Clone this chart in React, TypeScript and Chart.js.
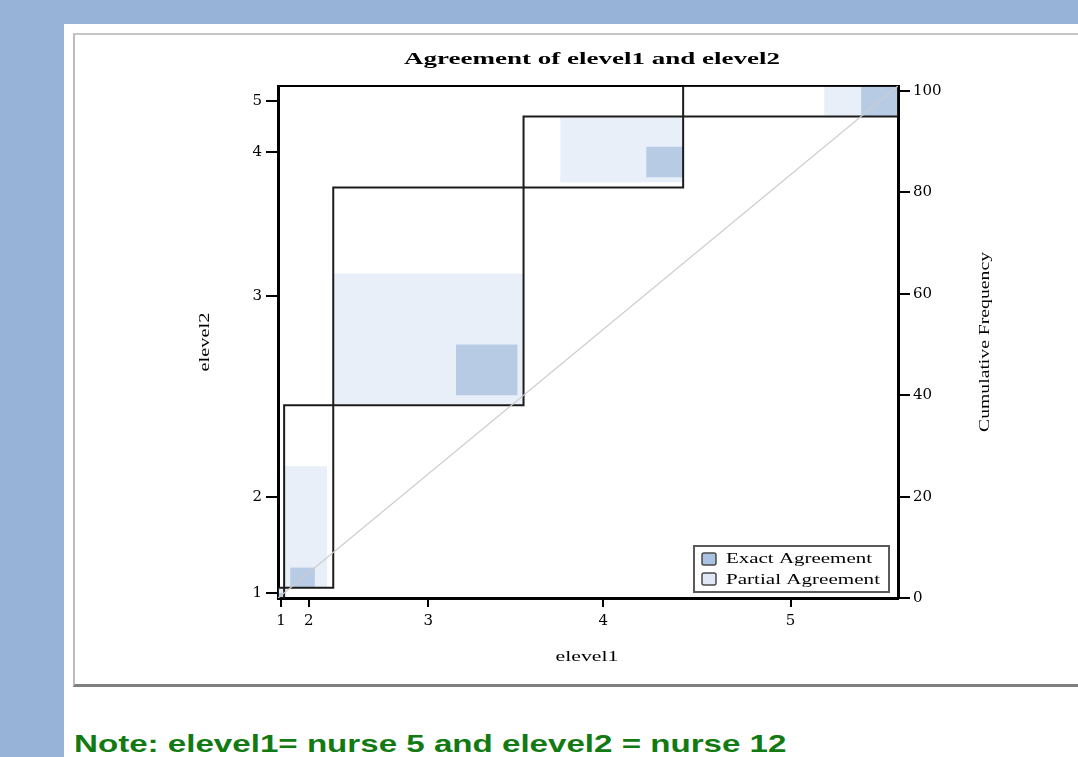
import React, { useEffect, useRef } from 'react';
import { Chart, registerables } from 'chart.js';

Chart.register(...registerables);

// Categories of elevel1 (x) and elevel2 (y)
const CATEGORIES = ['1', '2', '3', '4', '5'];
// Cross-tab counts: each array = elevel1 fixed, counts for elevel2 = 1..5
const E1_IS_1 = [1, 0, 0, 0, 0];
const E1_IS_2 = [1, 4, 2, 1, 0];
const E1_IS_3 = [0, 20, 10, 1, 0];
const E1_IS_4 = [0, 6, 14, 6, 0];
const E1_IS_5 = [0, 6, 17, 6, 6];
const FREQ_TICKS = [0, 20, 40, 60, 80, 100];
const LEGEND_LABELS = ['Exact Agreement', 'Partial Agreement'];

const TABLE = [E1_IS_1, E1_IS_2, E1_IS_3, E1_IS_4, E1_IS_5];
const K = CATEGORIES.length;
const sum = (a: number[]) => a.reduce((s, v) => s + v, 0);
const ROW_TOT = TABLE.map((r) => sum(r));
const COL_TOT = CATEGORIES.map((_, j) => sum(TABLE.map((r) => r[j])));
const N = sum(ROW_TOT);
const cum = (arr: number[]) => arr.reduce((acc: number[], v) => { acc.push(acc[acc.length - 1] + v); return acc; }, [0]);
const XC = cum(ROW_TOT);
const YC = cum(COL_TOT);
const X_MIDS = CATEGORIES.map((_, k) => (XC[k] + XC[k + 1]) / 2);
const Y_MIDS = CATEGORIES.map((_, k) => (YC[k] + YC[k + 1]) / 2);
const sumRange = (arr: number[], a: number, b: number) => {
  let s = 0;
  for (let i = Math.max(0, a); i < Math.min(arr.length, b); i++) s += arr[i];
  return s;
};
const rowOf = (k: number) => TABLE[k];
const colOf = (k: number) => TABLE.map((r) => r[k]);

const PARTIAL_RECTS = CATEGORIES.map((_, k) => {
  const row = rowOf(k), col = colOf(k);
  const x0 = XC[k] + sumRange(row, 0, k - 1);
  const y0 = YC[k] + sumRange(col, 0, k - 1);
  return { x0, x1: x0 + sumRange(row, k - 1, k + 2), y0, y1: y0 + sumRange(col, k - 1, k + 2) };
});
const EXACT_RECTS = CATEGORIES.map((_, k) => {
  const row = rowOf(k), col = colOf(k);
  const x0 = XC[k] + sumRange(row, 0, k);
  const y0 = YC[k] + sumRange(col, 0, k);
  return { x0, x1: x0 + TABLE[k][k], y0, y1: y0 + TABLE[k][k] };
});

const LIGHT = '#e8eff8';
const DARK = '#b7cbe5';

function stretchText(ctx: CanvasRenderingContext2D, text: string, x: number, y: number, font: string,
  target: number, angle = 0, align: CanvasTextAlign = 'center', baseline: CanvasTextBaseline = 'middle') {
  ctx.save();
  ctx.font = font;
  const w = ctx.measureText(text).width;
  ctx.translate(x, y);
  ctx.rotate(angle);
  ctx.scale(target / w, 1);
  ctx.textAlign = align;
  ctx.textBaseline = baseline;
  ctx.fillStyle = '#000';
  ctx.fillText(text, 0, 0);
  ctx.restore();
}

const shadePlugin = {
  id: 'shade',
  beforeDatasetsDraw(chart: any) {
    const { ctx } = chart;
    const xs = chart.scales.x, ys = chart.scales.y;
    const fill = (r: any, c: string) => {
      const a = xs.getPixelForValue(r.x0), b = xs.getPixelForValue(r.x1);
      const t = ys.getPixelForValue(r.y1), u = ys.getPixelForValue(r.y0);
      ctx.fillStyle = c;
      ctx.fillRect(a, t, b - a, u - t);
    };
    ctx.save();
    PARTIAL_RECTS.forEach((r) => fill(r, LIGHT));
    EXACT_RECTS.forEach((r) => fill(r, DARK));
    ctx.restore();
  },
};

const textPlugin = {
  id: 'texts',
  afterDraw(chart: any) {
    const { ctx, chartArea: ca } = chart;
    const cx = (ca.left + ca.right) / 2;
    const cy = (ca.top + ca.bottom) / 2;
    const serif = '"Liberation Serif", "Times New Roman", serif';
    stretchText(ctx, 'Agreement of elevel1 and elevel2', cx + 4, ca.top - 26, `bold 17px ${serif}`, 376);
    stretchText(ctx, 'elevel1', cx - 1, ca.bottom + 59, `15px ${serif}`, 63);
    stretchText(ctx, 'elevel2', ca.left - 73, cy, `15px ${serif}`, 59, -Math.PI / 2);
    stretchText(ctx, 'Cumulative Frequency', ca.right + 87, cy, `15px ${serif}`, 180, -Math.PI / 2);

    // legend
    const bw = 195, bh = 46;
    const bx = ca.right - 9 - bw, by = ca.bottom - 6 - bh;
    ctx.save();
    ctx.fillStyle = '#fff';
    ctx.fillRect(bx, by, bw, bh);
    ctx.strokeStyle = '#5a5a5a';
    ctx.lineWidth = 2;
    ctx.strokeRect(bx, by, bw, bh);
    const sw = [{ c: '#a9c2e2', y: by + 7 }, { c: '#dfe8f4', y: by + 27 }];
    sw.forEach((s) => {
      ctx.beginPath();
      (ctx as any).roundRect(bx + 8, s.y, 14, 12, 2);
      ctx.fillStyle = s.c;
      ctx.fill();
      ctx.strokeStyle = '#4a4a4a';
      ctx.lineWidth = 1.5;
      ctx.stroke();
    });
    ctx.restore();
    stretchText(ctx, LEGEND_LABELS[0], bx + 32, by + 17, `15px ${serif}`, 146, 0, 'left', 'alphabetic');
    stretchText(ctx, LEGEND_LABELS[1], bx + 32, by + 38, `15px ${serif}`, 154, 0, 'left', 'alphabetic');
  },
};

export default function App() {
  const ref = useRef<HTMLCanvasElement | null>(null);
  useEffect(() => {
    if (!ref.current) return;
    const tickFont = { family: '"DejaVu Serif", serif', size: 15 };
    const datasets: any[] = [
      {
        data: [{ x: 0, y: 0 }, { x: N, y: N }],
        borderColor: '#cdcdcd', borderWidth: 1.3, showLine: true, pointRadius: 0,
      },
      ...CATEGORIES.map((_, k) => ({
        data: [
          { x: XC[k], y: YC[k] }, { x: XC[k + 1], y: YC[k] }, { x: XC[k + 1], y: YC[k + 1] },
          { x: XC[k], y: YC[k + 1] }, { x: XC[k], y: YC[k] },
        ],
        borderColor: '#1c1c1c', borderWidth: 2, showLine: true, pointRadius: 0, tension: 0,
        borderJoinStyle: 'miter',
      })),
    ];
    const chart = new Chart(ref.current, {
      type: 'scatter',
      data: { datasets },
      options: {
        animation: false,
        responsive: false,
        maintainAspectRatio: false,
        events: [],
        layout: { padding: 0 },
        plugins: { legend: { display: false }, title: { display: false }, tooltip: { enabled: false } },
        scales: {
          x: {
            type: 'linear', position: 'bottom', min: 0, max: N,
            afterBuildTicks: (s: any) => { s.ticks = X_MIDS.map((v) => ({ value: v })); },
            afterFit: (s: any) => { s.height = 86; },
            ticks: {
              autoSkip: false, maxRotation: 0, padding: 5, color: '#000', font: tickFont,
              callback: (_v: any, i: number) => CATEGORIES[i],
            },
            grid: { drawOnChartArea: false, drawTicks: true, tickLength: 9, color: '#000', lineWidth: 2 },
            border: { display: true, color: '#000', width: 3 },
          },
          xTop: {
            type: 'linear', position: 'top', min: 0, max: N,
            afterFit: (s: any) => { s.height = 50; },
            ticks: { display: false },
            grid: { drawOnChartArea: false, drawTicks: false },
            border: { display: true, color: '#000', width: 2 },
          },
          y: {
            type: 'linear', position: 'left', min: 0, max: N,
            afterBuildTicks: (s: any) => { s.ticks = Y_MIDS.map((v) => ({ value: v })); },
            afterFit: (s: any) => { s.width = 202; },
            ticks: {
              autoSkip: false, padding: 4, color: '#000', font: tickFont,
              callback: (_v: any, i: number) => CATEGORIES[i],
            },
            grid: { drawOnChartArea: false, drawTicks: true, tickLength: 12, color: '#000', lineWidth: 2 },
            border: { display: true, color: '#000', width: 3 },
          },
          y2: {
            type: 'linear', position: 'right', min: 0, max: N,
            afterBuildTicks: (s: any) => { s.ticks = FREQ_TICKS.map((v) => ({ value: v })); },
            afterFit: (s: any) => { s.width = 180; },
            ticks: { autoSkip: false, padding: 3, color: '#000', font: tickFont, callback: (v: any) => String(v) },
            grid: { drawOnChartArea: false, drawTicks: true, tickLength: 12, color: '#000', lineWidth: 2 },
            border: { display: true, color: '#000', width: 3 },
          },
        },
      } as any,
      plugins: [shadePlugin, textPlugin],
    });
    return () => chart.destroy();
  }, []);

  return (
    <div style={{ position: 'fixed', left: 0, top: 0, width: 1078, height: 757, background: '#97b4d8', overflow: 'hidden' }}>
      <div style={{ position: 'absolute', left: 64, top: 24, width: 1014, height: 733, background: '#fff', overflow: 'hidden' }}>
        <div style={{
          position: 'absolute', left: 9, top: 9, width: 1030, height: 654, boxSizing: 'border-box',
          borderLeft: '2px solid #bdbdbd', borderTop: '2px solid #c6c6c6', borderBottom: '3px solid #7f7f7f',
        }} />
        <canvas ref={ref} width={1002} height={648} style={{ position: 'absolute', left: 12, top: 12, display: 'block' }} />
        <div style={{
          position: 'absolute', left: 10, top: 708, margin: 0, whiteSpace: 'nowrap',
          font: 'bold 24px "Liberation Sans", Arial, sans-serif', lineHeight: '24px', color: '#127a12',
          transform: 'scaleX(1.38)', transformOrigin: 'left top',
        }}>
          Note: elevel1= nurse 5 and elevel2 = nurse 12
        </div>
      </div>
    </div>
  );
}
